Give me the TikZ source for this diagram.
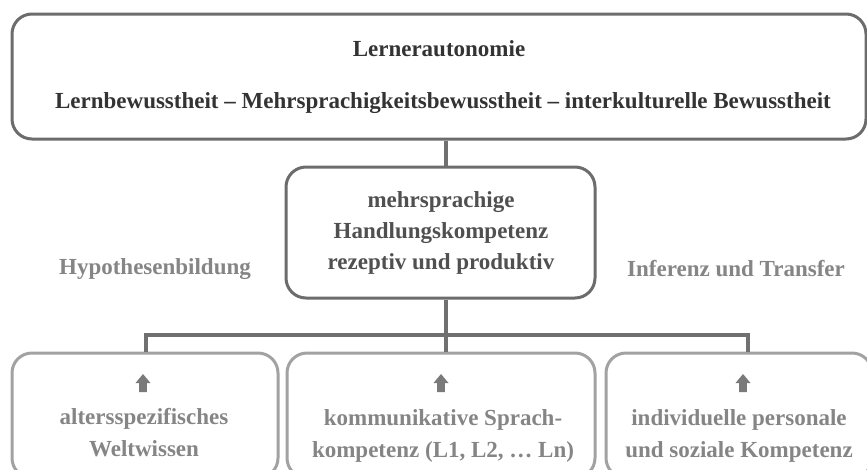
\documentclass[tikz,border=0pt]{standalone}
\usepackage{fontspec}
\setmainfont{Liberation Serif}
\definecolor{boxdark}{HTML}{6C6C6C}
\definecolor{boxlight}{HTML}{A2A2A2}
\definecolor{linecol}{HTML}{707070}
\definecolor{txtdark}{HTML}{333333}
\definecolor{txtmid}{HTML}{505050}
\definecolor{txtlight}{HTML}{858585}
\definecolor{arrowcol}{HTML}{7A7A7A}
\tikzset{
  darkbox/.style={draw=boxdark, line width=3pt, rounded corners=20pt, inner sep=0pt},
  lightbox/.style={draw=boxlight, line width=3pt, rounded corners=20pt, inner sep=0pt},
  conn/.style={draw=linecol, line width=4pt},
  lbl/.style={anchor=base, inner sep=0pt, font=\fontsize{23}{31}\selectfont\bfseries},
  upicon/.style={fill=arrowcol, draw=none},
}
\begin{document}
\begin{tikzpicture}[x=1pt, y=-1pt]
\useasboundingbox (0,0) rectangle (867,469);
\clip (0,0) rectangle (867,469);
% boxes
\node[darkbox, minimum width=854pt, minimum height=125pt] (top) at (439,76.5) {};
\node[darkbox, minimum width=309pt, minimum height=131pt] (mid) at (440.5,232.5) {};
\node[lightbox, minimum width=266pt, minimum height=125pt] (b1) at (145,415.5) {};
\node[lightbox, minimum width=308pt, minimum height=125pt] (b2) at (441,415.5) {};
\node[lightbox, minimum width=266pt, minimum height=125pt] (b3) at (739,415.5) {};
% texts top
\node[lbl, text=txtdark] (t1) at (439,56) {Lernerautonomie};
\node[lbl, text=txtdark] (t2) at (443,108) {Lernbewusstheit – Mehrsprachigkeitsbewusstheit – interkulturelle Bewusstheit};
% texts mid
\node[lbl, text=txtmid] (m1) at (441,207) {mehrsprachige};
\node[lbl, text=txtmid] (m2) at (441,238) {Handlungskompetenz};
\node[lbl, text=txtmid] (m3) at (441,269) {rezeptiv und produktiv};
% side labels
\node[lbl, text=txtlight] (s1) at (155,274) {Hypothesenbildung};
\node[lbl, text=txtlight] (s2) at (736,276) {Inferenz und Transfer};
% bottom texts
\node[lbl, text=txtlight] (l1a) at (144,424) {altersspezifisches};
\node[lbl, text=txtlight] (l1b) at (144,456) {Weltwissen};
\node[lbl, text=txtlight] (l2a) at (443,425) {kommunikative Sprach-};
\node[lbl, text=txtlight] (l2b) at (443,457) {kompetenz (L1, L2, … Ln)};
\node[lbl, text=txtlight] (l3a) at (739,425) {individuelle personale};
\node[lbl, text=txtlight] (l3b) at (739,457) {und soziale Kompetenz};
% up arrows
\foreach \cx/\nm in {143/a1, 441/a2, 743/a3}{
  \fill[upicon] (\cx,374) -- (\cx+7.5,383) -- (\cx+3.8,383) -- (\cx+3.8,392)
     -- (\cx-3.8,392) -- (\cx-3.8,383) -- (\cx-7.5,383) -- cycle;
}
% connectors
\coordinate (jc) at (446,335);
\coordinate (jl) at (146,335);
\coordinate (jr) at (748,335);
\draw[conn] (top.south -| jc) -- (mid.north -| jc);
\draw[conn] (mid.south -| jc) -- (jc) -- (b2.north -| jc);
\draw[conn] (b1.north -| jl) -- (jl) -- (jr) -- (b3.north -| jr);
\end{tikzpicture}
\end{document}
